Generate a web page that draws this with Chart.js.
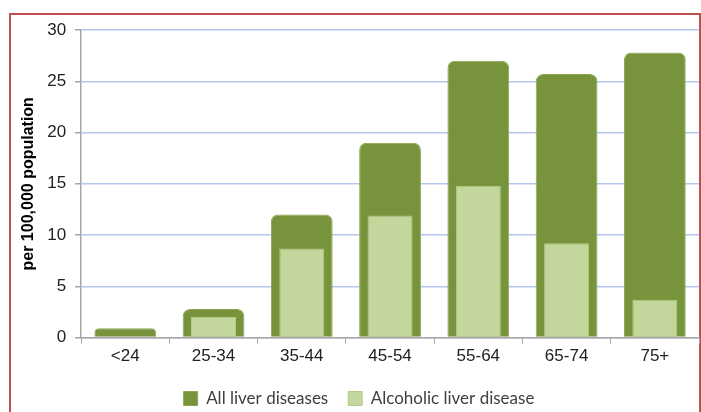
<!DOCTYPE html>
<html>
<head>
<meta charset="utf-8">
<script src="https://cdn.jsdelivr.net/npm/chart.js@4.4.1/dist/chart.umd.min.js"></script>
<style>
  html, body { margin: 0; padding: 0; background: #fff; }
  #wrap { position: relative; width: 701px; height: 412px; overflow: hidden; }
  #frame { position: absolute; left: 9px; top: 13px; width: 688px; height: 420px; border: 2px solid #c0504d; }
  canvas { position: absolute; left: 0; top: 0; }
</style>
</head>
<body>
<div id="wrap">
  <div id="frame"></div>
  <canvas id="chart" width="701" height="412"></canvas>
</div>
<script>
// age groups along the x axis
const ageGroups = ['<24', '25-34', '35-44', '45-54', '55-64', '65-74', '75+'];
// rates per 100,000 population
const allLiver = [0.9, 2.8, 12.0, 19.0, 27.0, 25.7, 27.8];
const alcoholicLiver = [0, 2.0, 8.7, 11.9, 14.8, 9.2, 3.7];
const yTicks = [0, 5, 10, 15, 20, 25, 30];

const ctx = document.getElementById('chart').getContext('2d');

new Chart(ctx, {
    type: 'bar',
    data: {
        labels: ageGroups,
        datasets: [
            {
                // first dataset is drawn on top, so the narrow light bars go first
                label: 'Alcoholic liver disease',
                data: alcoholicLiver,
                backgroundColor: '#c3d69b',
                borderColor: '#b5cc88',
                borderWidth: 1,
                borderSkipped: 'bottom',
                grouped: false,
                barPercentage: 0.51,
                categoryPercentage: 1.0,
            },
            {
                label: 'All liver diseases',
                data: allLiver,
                backgroundColor: '#77933c',
                borderColor: '#8aa652',
                borderWidth: 1,
                borderSkipped: 'bottom',
                borderRadius: { topLeft: 7, topRight: 7 },
                grouped: false,
                barPercentage: 0.70,
                categoryPercentage: 1.0,
            },
        ],
    },
    options: {
        responsive: false,
        animation: false,
        // negative bottom padding lets the legend's padding run off the canvas
        layout: { padding: { left: 19, top: 30, right: 2, bottom: -5 } },
        plugins: {
            tooltip: { enabled: false },
            legend: {
                position: 'bottom',
                labels: {
                    // show "All liver diseases" first like the original
                    sort: (a, b) => b.datasetIndex - a.datasetIndex,
                    boxWidth: 14,
                    boxHeight: 14,
                    padding: 20,
                    color: '#404040',
                    font: { family: 'Lato', size: 17 },
                },
            },
        },
        scales: {
            x: {
                grid: {
                    drawOnChartArea: false,
                    drawTicks: true,
                    tickLength: 6,
                    color: '#a6a6a6',
                },
                border: { color: '#a6a6a6', width: 1.5 },
                ticks: {
                    color: '#222',
                    padding: 3,
                    font: { family: 'Liberation Sans', size: 17 },
                },
            },
            y: {
                min: 0,
                max: 30,
                afterBuildTicks: (axis) => {
                    axis.ticks = yTicks.map((v) => ({ value: v }));
                },
                grid: {
                    color: '#b4c7ec',
                    lineWidth: 1.5,
                    tickLength: 6,
                    tickColor: '#a6a6a6',
                },
                border: { color: '#a6a6a6', width: 1.5 },
                ticks: {
                    color: '#222',
                    padding: 9,
                    font: { family: 'Liberation Sans', size: 17 },
                },
                title: {
                    display: true,
                    text: 'per 100,000 population',
                    color: '#000',
                    font: { family: 'Liberation Sans', size: 16, weight: 'bold' },
                    padding: { top: 0, bottom: 0 },
                },
            },
        },
    },
});
</script>
</body>
</html>
